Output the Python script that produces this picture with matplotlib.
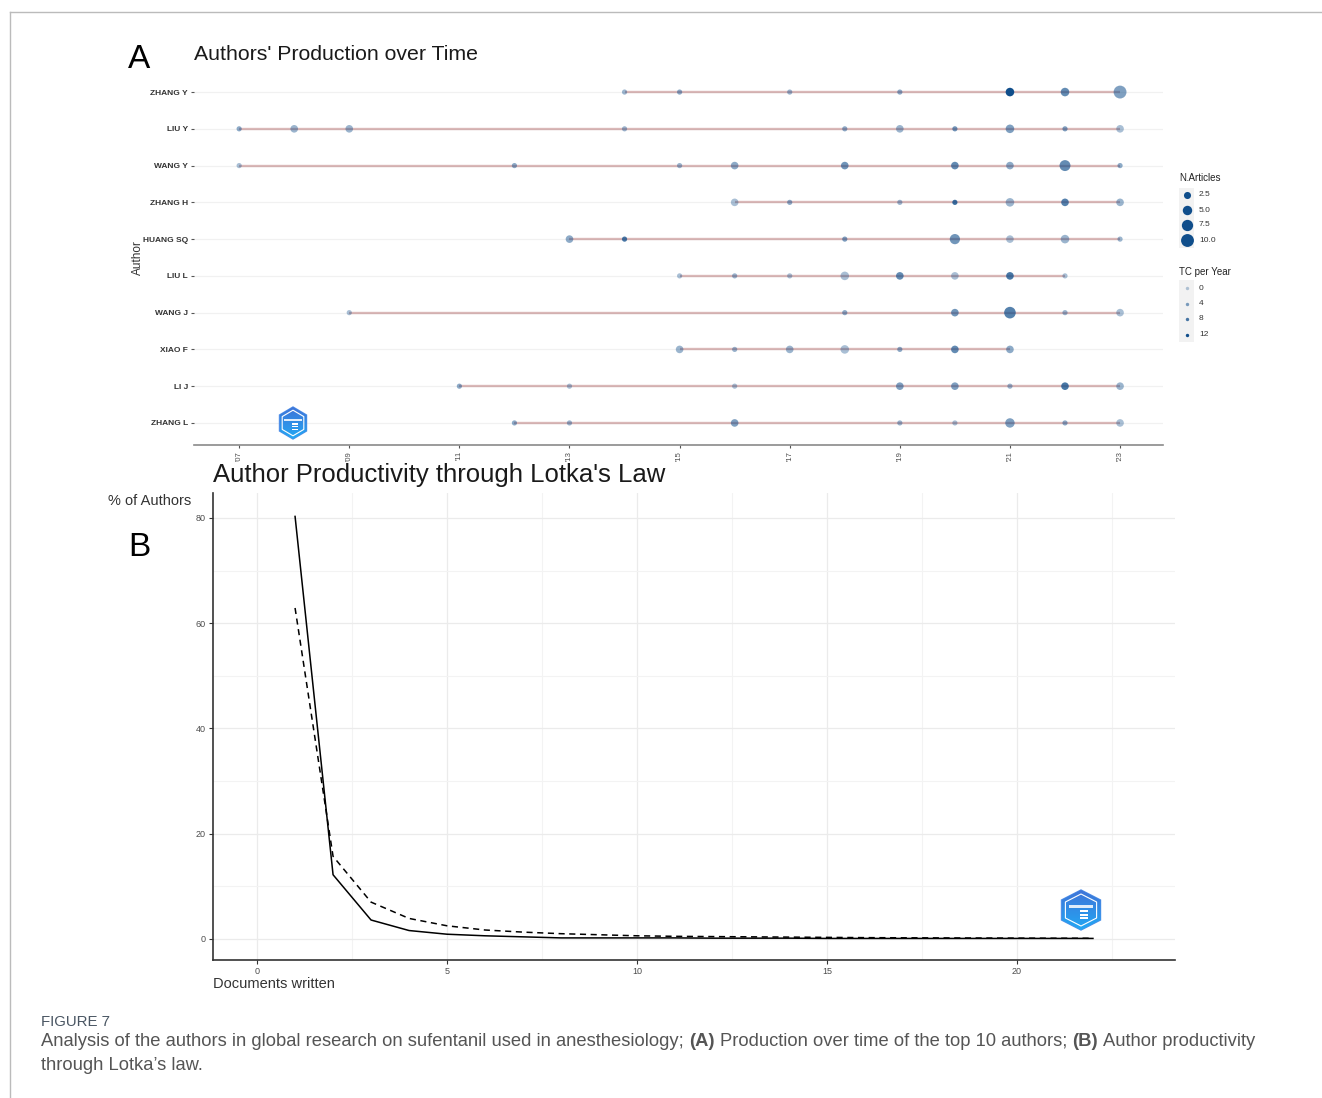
import matplotlib
matplotlib.use("Agg")
import matplotlib.pyplot as plt
import numpy as np
from matplotlib.patches import Polygon, Rectangle

plt.rcParams['font.family'] = ['Liberation Sans', 'DejaVu Sans']

W, H = 1322, 1098

# ---- panel A data: top 10 authors, production over time ----
authors = ["ZHANG Y", "LIU Y", "WANG Y", "ZHANG H", "HUANG SQ",
           "LIU L", "WANG J", "XIAO F", "LI J", "ZHANG L"]
years = [
    [2014, 2015, 2017, 2019, 2021, 2022, 2023],
    [2007, 2008, 2009, 2014, 2018, 2019, 2020, 2021, 2022, 2023],
    [2007, 2012, 2015, 2016, 2018, 2020, 2021, 2022, 2023],
    [2016, 2017, 2019, 2020, 2021, 2022, 2023],
    [2013, 2014, 2018, 2020, 2021, 2022, 2023],
    [2015, 2016, 2017, 2018, 2019, 2020, 2021, 2022],
    [2009, 2018, 2020, 2021, 2022, 2023],
    [2015, 2016, 2017, 2018, 2019, 2020, 2021],
    [2011, 2013, 2016, 2019, 2020, 2021, 2022, 2023],
    [2012, 2013, 2016, 2019, 2020, 2021, 2022, 2023],
]
articles = [
    [1, 1, 1, 1, 4, 4, 10],
    [1, 3, 3, 1, 1, 3, 1, 4, 1, 3],
    [1, 1, 1, 3, 3, 3, 3, 7, 1],
    [3, 1, 1, 1, 4, 3, 3],
    [3, 1, 1, 6, 3, 4, 1],
    [1, 1, 1, 4, 3, 3, 3, 1],
    [1, 1, 3, 8, 1, 3],
    [3, 1, 3, 4, 1, 3, 3],
    [1, 1, 1, 3, 3, 1, 3, 3],
    [1, 1, 3, 1, 1, 5, 1, 3],
]
tc_per_year = [
    [2, 3, 2, 3, 12, 6, 4],
    [3, 2, 2, 2, 3, 2, 5, 4, 4, 1],
    [1, 3, 2, 3, 5, 6, 3, 6, 3],
    [1, 3, 2, 9, 2, 7, 2],
    [3, 8, 4, 5, 1, 2, 2],
    [1, 2, 1, 1, 6, 1, 8, 1],
    [1, 3, 5, 7, 2, 1],
    [2, 2, 2, 1, 3, 6, 3],
    [3, 1, 1, 4, 4, 2, 8, 2],
    [3, 2, 4, 2, 1, 4, 3, 1],
]
size_legend = [2.5, 5.0, 7.5, 10.0]
tc_legend = [0, 4, 8, 12]

# ---- panel B data: Lotka's law ----
docs = list(range(1, 23))
observed = [80.3, 12.2, 3.6, 1.6, 0.9, 0.6, 0.4, 0.2, 0.2, 0.2, 0.2,
            0.15, 0.15, 0.15, 0.1, 0.1, 0.1, 0.1, 0.1, 0.1, 0.1, 0.1]
theoretical = [62.9, 15.7, 7.0, 3.9, 2.5, 1.7, 1.3, 1.0, 0.8, 0.6, 0.5,
               0.45, 0.4, 0.35, 0.3, 0.25, 0.22, 0.2, 0.18, 0.16, 0.14, 0.13]

BLUE = np.array([0x10, 0x4E, 0x8B]) / 255.0


def pt_size(n):
    return 6 + 8 * np.asarray(n, dtype=float)


def pt_alpha(tc):
    return 0.3 + 0.7 * np.clip(np.asarray(tc, dtype=float) / 12.0, 0, 1)


def blue_rgba(tc):
    a = np.atleast_1d(pt_alpha(tc))
    return np.column_stack([np.tile(BLUE, (len(a), 1)), a])


fig = plt.figure(figsize=(W / 100, H / 100), dpi=100)

# ================= panel A =================
ax1 = fig.add_axes([194 / W, 1 - 445 / H, (1163 - 194) / W, 375 / H])
n_auth = len(authors)
for i, name in enumerate(authors):
    yy = n_auth - 1 - i
    ax1.axhline(yy, color='#f1f1f1', lw=0.9, zorder=0)
    ax1.plot([min(years[i]), max(years[i])], [yy, yy], color='#8B1A1A',
             alpha=0.3, lw=1.7, zorder=1, solid_capstyle='butt')
    ax1.scatter(years[i], [yy] * len(years[i]), s=pt_size(articles[i]),
                c=blue_rgba(tc_per_year[i]), linewidths=0, zorder=2)

xt = list(range(2007, 2024, 2))
ax1.set_xticks(xt)
ax1.set_xticklabels(["'" + str(y)[2:] for y in xt], rotation=90, fontsize=5.5,
                    color='#4d4d4d')
ax1.set_yticks(range(n_auth))
ax1.set_yticklabels(authors[::-1], fontsize=6, fontweight='bold', color='#333333')
ax1.set_xlim(2006.18, 2023.78)
ax1.set_ylim(-0.6, n_auth - 0.4)
ax1.tick_params(axis='both', length=2.5, width=0.8, color='#555555', pad=2)
for s in ['top', 'right', 'left']:
    ax1.spines[s].set_visible(False)
ax1.spines['bottom'].set_color('#8a8a8a')
ax1.spines['bottom'].set_linewidth(1.2)
ax1.set_ylabel('Author', fontsize=8.5, color='#333333')
ax1.yaxis.set_label_coords((144 - 194) / 969, 0.5)

# ================= panel B =================
ax2 = fig.add_axes([213 / W, 1 - 960 / H, (1175 - 213) / W, 467 / H])
ax2.set_xticks([0, 5, 10, 15, 20])
ax2.set_xticks([2.5, 7.5, 12.5, 17.5, 22.5], minor=True)
ax2.set_yticks([0, 20, 40, 60, 80])
ax2.set_yticks([10, 30, 50, 70], minor=True)
ax2.set_xlim(-1.16, 24.16)
ax2.set_ylim(-4.0, 84.75)
ax2.grid(which='major', color='#ebebeb', lw=0.9)
ax2.grid(which='minor', color='#f3f3f3', lw=0.8)
ax2.set_axisbelow(True)
ax2.tick_params(axis='both', which='major', length=3, width=0.8, color='#333333',
                labelsize=6.5, labelcolor='#4d4d4d', pad=2)
ax2.tick_params(axis='both', which='minor', length=0)
for s in ['top', 'right']:
    ax2.spines[s].set_visible(False)
for s in ['left', 'bottom']:
    ax2.spines[s].set_color('#333333')
    ax2.spines[s].set_linewidth(1.2)
ax2.plot(docs, observed, color='black', lw=1.1)
ax2.plot(docs, theoretical, color='black', lw=1.1, ls=(0, (4, 3)))

# ================= overlay (texts, legends, logos, frame) =================
ov = fig.add_axes([0, 0, 1, 1])
ov.set_xlim(0, W)
ov.set_ylim(H, 0)
ov.axis('off')

ov.plot([9.5, W], [12, 12], color='#bbbbbb', lw=1)
ov.plot([9.5, 9.5], [12, H], color='#bbbbbb', lw=1)

ov.text(139, 60, 'A', fontsize=24, ha='center', va='center', color='black')
ov.text(194, 54, "Authors' Production over Time", fontsize=15.3, ha='left',
        va='center', color='#1a1a1a')
ov.text(139, 548, 'B', fontsize=24, ha='center', va='center', color='black')
ov.text(213, 475, "Author Productivity through Lotka's Law", fontsize=18.5,
        ha='left', va='center', color='#1a1a1a')
ov.text(108, 501, '% of Authors', fontsize=10.5, ha='left', va='center',
        color='#333333')
ov.text(213, 984, 'Documents written', fontsize=10.5, ha='left', va='center',
        color='#333333')

# legends of panel A
ov.text(1179, 178, 'N.Articles', fontsize=7, ha='left', va='center', color='#222222')
for k, v in enumerate(size_legend):
    yk = 195 + 15 * k
    ov.add_patch(Rectangle((1179, yk - 7.5), 15, 15, color='#f2f2f2', lw=0))
    ov.scatter([1186.5], [yk], s=pt_size(v), color=BLUE, linewidths=0)
    ov.text(1199, yk, f'{v:.1f}', fontsize=6, ha='left', va='center', color='#333333')
ov.text(1179, 272, 'TC per Year', fontsize=7, ha='left', va='center', color='#222222')
for k, v in enumerate(tc_legend):
    yk = 288 + 15.5 * k
    ov.add_patch(Rectangle((1179, yk - 7.75), 15, 15.5, color='#f2f2f2', lw=0))
    ov.scatter([1186.5], [yk], s=6, c=blue_rgba(v), linewidths=0)
    ov.text(1199, yk, f'{v}', fontsize=6, ha='left', va='center', color='#333333')


def logo(cx, cy, w, h):
    verts = [(cx, cy - h / 2), (cx + w / 2, cy - h / 4), (cx + w / 2, cy + h / 4),
             (cx, cy + h / 2), (cx - w / 2, cy + h / 4), (cx - w / 2, cy - h / 4)]
    outer = Polygon(verts, closed=True, facecolor='none', edgecolor='#4f8fe8', lw=1.0)
    ov.add_patch(outer)
    grad = np.linspace(0, 1, 64).reshape(-1, 1)
    cmap = matplotlib.colors.LinearSegmentedColormap.from_list(
        'lg', ['#3f74d8', '#22a8f4'])
    img = ov.imshow(grad, cmap=cmap,
                    extent=[cx - w / 2, cx + w / 2, cy + h / 2, cy - h / 2],
                    aspect='auto', zorder=3)
    img.set_clip_path(outer)
    inner = [(cx + (x - cx) * 0.8, cy + (y - cy) * 0.8) for x, y in verts]
    ov.add_patch(Polygon(inner, closed=True, facecolor='none', edgecolor='white',
                         lw=0.8, zorder=4))
    ov.add_patch(Rectangle((cx - w * 0.32, cy - h * 0.13), w * 0.64, h * 0.08,
                           color='white', zorder=4, lw=0, alpha=0.85))
    for j in range(3):
        ov.add_patch(Rectangle((cx - w * 0.02, cy + h * (0.0 + 0.09 * j)),
                               w * 0.2, h * 0.05, color='white', zorder=4, lw=0))
    ov.set_xlim(0, W)
    ov.set_ylim(H, 0)


logo(293, 423, 27, 32)
logo(1081, 910, 39, 40)

# caption
cap_font = ['Liberation Sans Narrow', 'Liberation Sans', 'DejaVu Sans']
renderer = fig.canvas.get_renderer()


def width_of(txt, size, weight):
    t = ov.text(0, 0, txt, fontsize=size, fontweight=weight, family=cap_font)
    wpx = t.get_window_extent(renderer=renderer).width
    t.remove()
    return wpx


line1 = [("Analysis of the authors in global research on sufentanil used in anesthesiology;", 'normal'),
         ("(A)", 'bold'),
         ("Production over time of the top 10 authors;", 'normal'),
         ("(B)", 'bold'),
         ("Author productivity", 'normal')]
base = 12.0
space = width_of('a a', base, 'normal') - width_of('aa', base, 'normal')
total = sum(width_of(t, base, wt) for t, wt in line1) + space * (len(line1) - 1)
cap_size = base * 1217.0 / total
space = width_of('a a', cap_size, 'normal') - width_of('aa', cap_size, 'normal')

x = 41.0
for t, wt in line1:
    tt = ov.text(x, 1042, t, fontsize=cap_size, fontweight=wt, family=cap_font,
                 ha='left', va='center', color='#555555')
    x += tt.get_window_extent(renderer=renderer).width + space
ov.text(41, 1066, "through Lotka\u2019s law.", fontsize=cap_size, family=cap_font,
        ha='left', va='center', color='#555555')
ov.text(41, 1022, 'FIGURE 7', fontsize=cap_size * 0.82, family=cap_font,
        ha='left', va='center', color='#4a5663')

fig.savefig('out.png', dpi=100)
